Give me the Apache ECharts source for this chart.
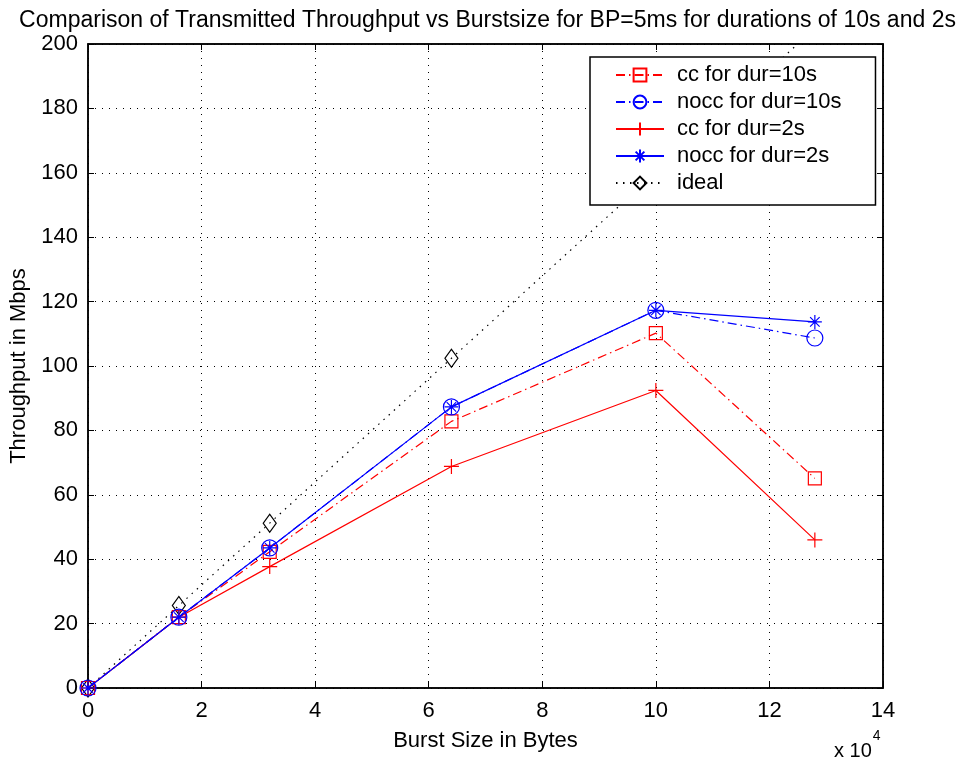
<!DOCTYPE html>
<html>
<head>
<meta charset="utf-8">
<script src="https://cdn.jsdelivr.net/npm/echarts@6/dist/echarts.min.js"></script>
<style>html,body{margin:0;padding:0;background:#fff}#c{width:975px;height:763px}</style>
</head>
<body>
<div id="c"></div>
<script>
// Burst size in units of 10^4 bytes
const burstSize = [0, 1.6, 3.2, 6.4, 10, 12.8];
const ccDur10 = [0, 22, 42.3, 82.8, 110.2, 65.1];
const noccDur10 = [0, 22, 43.5, 87.3, 117.3, 108.7];
const ccDur2 = [0, 22, 37.7, 68.8, 92.4, 46.0];
const noccDur2 = [0, 22, 43.5, 87.3, 117.3, 113.7];
const ideal = [0, 25.6, 51.2, 102.4, 160, 204.8];
const seriesNames = ['cc for dur=10s', 'nocc for dur=10s', 'cc for dur=2s', 'nocc for dur=2s', 'ideal'];
const xTicks = [0, 2, 4, 6, 8, 10, 12, 14];
const yTicks = [0, 20, 40, 60, 80, 100, 120, 140, 160, 180, 200];

const FONT = 'Liberation Sans, Arial, Helvetica, sans-serif';
const pair = ys => burstSize.map((x, i) => [x, ys[i]]);
const PLUS = 'path://M0,5L10,5M5,0L5,10';
const STAR = 'path://M0,5L10,5M5,0L5,10M1.6,1.6L8.4,8.4M1.6,8.4L8.4,1.6';
const DASHDOT = [9, 4, 1.5, 4];

const chart = echarts.init(document.getElementById('c'), null, {renderer: 'canvas'});
const axisCommon = {
  axisLine: {show: true, onZero: false, lineStyle: {color: '#000', width: 1.5}},
  axisTick: {show: true, inside: true, length: 6, lineStyle: {color: '#000', width: 1}},
  axisLabel: {show: true, color: '#000', fontFamily: FONT, fontSize: 22},
  splitLine: {show: true, lineStyle: {color: '#000', type: [1, 6], width: 1}}
};
const hollow = c => ({color: 'rgba(0,0,0,0)', borderColor: c, borderWidth: 1.2});

chart.setOption({
  animation: false,
  backgroundColor: '#fff',
  title: {
    text: 'Comparison of Transmitted Throughput vs Burstsize for BP=5ms for durations of 10s and 2s',
    left: 'center', top: 4,
    textStyle: {fontFamily: FONT, fontSize: 23, fontWeight: 'normal', color: '#000'}
  },
  grid: {left: 86, right: 92, top: 44, bottom: 75, show: true, borderColor: '#000', borderWidth: 1.5, containLabel: false},
  legend: {
    orient: 'vertical', left: 590, top: 57,
    data: seriesNames,
    backgroundColor: '#fff', borderColor: '#000', borderWidth: 1.5,
    padding: [7, 34, 11, 25],
    itemWidth: 48, itemHeight: 16, itemGap: 5,
    textStyle: {fontFamily: FONT, fontSize: 22, color: '#000', lineHeight: 22, padding: [0, 0, 0, 8]}
  },
  xAxis: [
    Object.assign({}, axisCommon, {type: 'value', min: 0, max: 14, interval: 2, position: 'bottom',
      name: 'Burst Size in Bytes', nameLocation: 'middle', nameGap: 42,
      nameTextStyle: {fontFamily: FONT, fontSize: 22, color: '#000'},
      axisLabel: Object.assign({}, axisCommon.axisLabel, {margin: 12, formatter: v => xTicks.includes(v) ? String(v) : ''})}),
    Object.assign({}, axisCommon, {type: 'value', min: 0, max: 14, interval: 2, position: 'top',
      axisLabel: {show: false}, splitLine: {show: false}})
  ],
  yAxis: [
    Object.assign({}, axisCommon, {type: 'value', min: 0, max: 200, interval: 20, position: 'left',
      name: 'Throughput in Mbps', nameLocation: 'middle', nameGap: 58, nameRotate: 90,
      nameTextStyle: {fontFamily: FONT, fontSize: 22, color: '#000'},
      axisLabel: Object.assign({}, axisCommon.axisLabel, {margin: 10, formatter: v => yTicks.includes(v) ? String(v) : ''})}),
    Object.assign({}, axisCommon, {type: 'value', min: 0, max: 200, interval: 20, position: 'right',
      axisLabel: {show: false}, splitLine: {show: false}})
  ],
  graphic: [{
    type: 'text', left: 834, top: 729,
    style: {
      text: '{a|x 10}{b|4}',
      rich: {
        a: {fontFamily: FONT, fontSize: 20, fill: '#000', verticalAlign: 'bottom', padding: [12, 0, 0, 0]},
        b: {fontFamily: FONT, fontSize: 14, fill: '#000', verticalAlign: 'top', padding: [0, 0, 14, 1]}
      }
    }
  }],
  series: [
    {name: seriesNames[4], type: 'line', data: pair(ideal), symbol: 'diamond', symbolSize: [13, 18],
      itemStyle: hollow('#000'), lineStyle: {color: '#000', width: 1.2, type: [1.5, 5.5]}, z: 1},
    {name: seriesNames[0], type: 'line', data: pair(ccDur10), symbol: 'rect', symbolSize: 13,
      itemStyle: hollow('#ff0000'), lineStyle: {color: '#ff0000', width: 1.2, type: DASHDOT}, z: 2},
    {name: seriesNames[2], type: 'line', data: pair(ccDur2), symbol: PLUS, symbolSize: 15,
      itemStyle: hollow('#ff0000'), lineStyle: {color: '#ff0000', width: 1.2, type: 'solid'}, z: 3},
    {name: seriesNames[1], type: 'line', data: pair(noccDur10), symbol: 'circle', symbolSize: 16,
      itemStyle: hollow('#0000ff'), lineStyle: {color: '#0000ff', width: 1.2, type: DASHDOT}, z: 4},
    {name: seriesNames[3], type: 'line', data: pair(noccDur2), symbol: STAR, symbolSize: 14,
      itemStyle: hollow('#0000ff'), lineStyle: {color: '#0000ff', width: 1.2, type: 'solid'}, z: 5}
  ]
});
</script>
</body>
</html>
